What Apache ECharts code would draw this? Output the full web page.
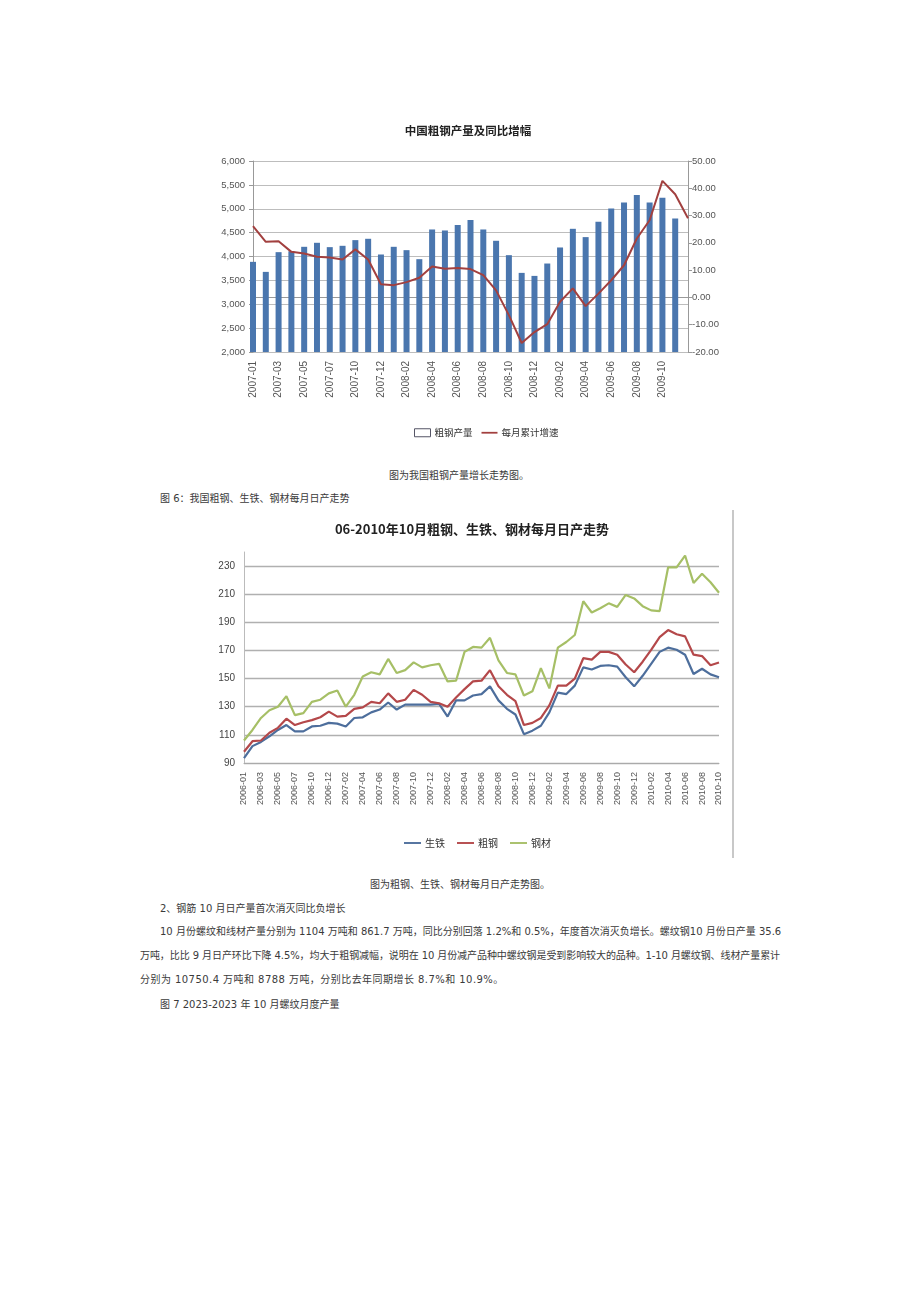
<!DOCTYPE html>
<html><head><meta charset="utf-8">
<script src="https://cdn.jsdelivr.net/npm/echarts@6/dist/echarts.min.js"></script>
<style>
html,body{margin:0;padding:0;background:#fff;width:920px;height:1302px;overflow:hidden;}
body{position:relative;font-family:"DejaVu Sans","Noto Sans CJK SC",sans-serif;color:#3a3a3a;}
.t{position:absolute;font-size:10px;line-height:14px;white-space:nowrap;}
.j{text-align:justify;text-align-last:justify;}
#c1{position:absolute;left:205px;top:100px;width:530px;height:350px;}
#c2{position:absolute;left:195px;top:505px;width:538px;height:355px;}
#bd{position:absolute;left:732px;top:510px;width:2px;height:348px;background:#c8c8c8;}
</style></head>
<body>
<div id="c1"></div>
<div class="t" style="left:0;width:918px;text-align:center;top:469px;">图为我国粗钢产量增长走势图。</div>
<div class="t" style="left:160px;top:492px;">图 6：我国粗钢、生铁、钢材每月日产走势</div>
<div id="c2"></div>
<div id="bd"></div>
<div class="t" style="left:0;width:920px;text-align:center;top:878px;">图为粗钢、生铁、钢材每月日产走势图。</div>
<div class="t" style="left:160px;top:902px;">2、钢筋 10 月日产量首次消灭同比负增长</div>
<div class="t j" style="left:160px;top:925px;width:620px;">10 月份螺纹和线材产量分别为 1104 万吨和 861.7 万吨，同比分别回落 1.2%和 0.5%，年度首次消灭负增长。螺纹钢10 月份日产量 35.6</div>
<div class="t j" style="left:140px;top:949px;width:640px;letter-spacing:-0.12px;">万吨，比比 9 月日产环比下降 4.5%，均大于粗钢减幅，说明在 10 月份减产品种中螺纹钢是受到影响较大的品种。1-10 月螺纹钢、线材产量累计</div>
<div class="t" style="left:140px;top:973px;letter-spacing:0.45px;">分别为 10750.4 万吨和 8788 万吨，分别比去年同期增长 8.7%和 10.9%。</div>
<div class="t" style="left:160px;top:998px;">图 7 2023-2023 年 10 月螺纹月度产量</div>
<script>
// ---------- Chart 1 data ----------
const c1Months = ['2007-01','2007-02','2007-03','2007-04','2007-05','2007-06','2007-07','2007-08','2007-10','2007-11','2007-12',
  '2008-01','2008-02','2008-03','2008-04','2008-05','2008-06','2008-07','2008-08','2008-09','2008-10','2008-11','2008-12',
  '2009-01','2009-02','2009-03','2009-04','2009-05','2009-06','2009-07','2009-08','2009-09','2009-10','2009-11','2009-12'];
const c1Output = [3888,3678,4091,4110,4203,4287,4196,4224,4343,4371,4042,
  4203,4133,3944,4566,4545,4660,4762,4566,4329,4028,3657,3594,
  3853,4189,4580,4406,4727,5007,5133,5287,5133,5231,4797,null];
const c1Growth = [26.1,20.4,20.6,16.7,16.1,14.9,14.6,13.9,17.6,13.9,4.8,
  4.5,5.6,7.2,11.3,10.5,10.8,10.4,8.2,2.6,-6.5,-16.7,-12.7,
  -9.8,-1.6,3.3,-3.2,1.4,6.3,11.8,21.6,28.3,42.7,37.8,29.0];
const c1LeftTicks = {min:2000,max:6000,step:500};
const c1RightTicks = {min:-20,max:50,step:10};

// ---------- Chart 2 data ----------
const c2Months = ['2006-01','2006-02','2006-03','2006-04','2006-05','2006-06','2006-07','2006-08','2006-10','2006-11','2006-12',
  '2007-01','2007-02','2007-03','2007-04','2007-05','2007-06','2007-07','2007-08','2007-09','2007-10','2007-11','2007-12',
  '2008-01','2008-02','2008-03','2008-04','2008-05','2008-06','2008-07','2008-08','2008-09','2008-10','2008-11','2008-12',
  '2009-01','2009-02','2009-03','2009-04','2009-05','2009-06','2009-07','2009-08','2009-09','2009-10','2009-11','2009-12',
  '2010-01','2010-02','2010-03','2010-04','2010-05','2010-06','2010-07','2010-08','2010-09','2010-10'];
const pigIron = [93.5,102,105,109,113.5,117,112.5,112.5,116,116.5,118.5,
  118,116,122,122.5,126,128,133,128,131.5,131.5,131.5,131.5,
  132,123,134.5,134.5,138,139,144.5,134.5,128.5,124.5,110.5,113,
  116.5,126,140,139,145,158,156.5,159,159.5,158.5,151,144.5,
  152,160.5,169,172,170.5,167,153.3,157,153,151];
const crudeSteel = [98,105.5,106,111.5,115,121.5,117,119,120.5,122.5,126.5,
  123,123.5,128.5,129.5,133.5,132.5,139.5,133.5,135,142,138.5,133.5,
  132.5,130,136.5,142.5,148,148.5,156,144.5,138.5,134,117,118.5,
  122,131,145,145,150,164.5,163.5,169,169,167,160,154.5,
  162,170.5,179.5,184.5,181.5,180,167,166,159.5,161.5];
const steelProducts = [106,113.5,122,127.5,130,137.5,124,125.5,133.5,135,139.5,
  141.5,130,138.5,151.5,154.5,153,164,154,156,161.5,158,159.5,
  160.5,148,148.5,169,172.5,172,179,163,154,153,138,141,
  157.5,143,172,176,181,205,197,200,203.5,201,209.5,207,
  201.5,198.5,198,229,229,237.5,218,224.5,218.5,211];
const c2Ticks = {min:90,max:240,step:20};

const FONT = '"Liberation Sans", Arial, "Noto Sans CJK SC", sans-serif';
const CJK = '"Noto Sans CJK SC", sans-serif';
const LINE_ICON = 'path://M0,0L18,0L18,2L0,2Z';

// ---------- Chart 1 ----------
const ch1 = echarts.init(document.getElementById('c1'), null, {renderer:'canvas'});
ch1.setOption({
  animation:false,
  textStyle:{fontFamily:FONT},
  title:{text:'中国粗钢产量及同比增幅',left:258,top:20,textAlign:'center',
    textStyle:{fontSize:11.5,fontWeight:'bold',color:'#222',fontFamily:CJK}},
  legend:{top:323,left:204,itemGap:9,itemWidth:16,itemHeight:8,
    textStyle:{fontSize:9.5,color:'#333',fontFamily:CJK,padding:[0,0,0,-1]},
    data:[{name:'粗钢产量',icon:'rect',itemStyle:{color:'#fff',borderColor:'#556',borderWidth:1}},
          {name:'每月累计增速',icon:LINE_ICON}]},
  grid:{left:48,right:47,top:61,bottom:98,containLabel:false},
  xAxis:{type:'category',data:c1Months,boundaryGap:false,
    axisLine:{lineStyle:{color:'#999'}},axisTick:{show:false},
    axisLabel:{interval:(i)=> i % 2 === 0 && i <= 32,rotate:90,fontSize:10,color:'#555',margin:9}},
  yAxis:[
    {type:'value',min:c1LeftTicks.min,max:c1LeftTicks.max,interval:c1LeftTicks.step,
      axisLine:{show:true,lineStyle:{color:'#999'}},axisTick:{show:true,length:4,lineStyle:{color:'#999'}},
      splitLine:{lineStyle:{color:'#bdbdbd',width:1}},
      axisLabel:{fontSize:9.5,color:'#555',margin:8,formatter:v=>v.toLocaleString('en-US')}},
    {type:'value',min:c1RightTicks.min,max:c1RightTicks.max,interval:c1RightTicks.step,position:'right',
      axisLine:{show:true,lineStyle:{color:'#999'}},axisTick:{show:true,length:4,lineStyle:{color:'#999'}},
      splitLine:{show:false},
      axisLabel:{fontSize:9.5,color:'#555',margin:4,formatter:v=>v.toFixed(2)}}
  ],
  series:[
    {name:'粗钢产量',type:'bar',data:c1Output,barWidth:6,itemStyle:{color:'#4a76ae'},yAxisIndex:0},
    {name:'每月累计增速',type:'line',data:c1Growth,yAxisIndex:1,symbol:'none',
      lineStyle:{color:'#a2403f',width:2},itemStyle:{color:'#a2403f'}}
  ]
});

// ---------- Chart 2 ----------
const ch2 = echarts.init(document.getElementById('c2'), null, {renderer:'canvas'});
ch2.setOption({
  animation:false,
  textStyle:{fontFamily:FONT},
  title:{text:'06-2010年10月粗钢、生铁、钢材每月日产走势',left:272,top:13,textAlign:'center',
    textStyle:{fontSize:13,fontWeight:'bold',color:'#222',fontFamily:CJK}},
  legend:{top:328,left:204,itemGap:12,itemWidth:17,itemHeight:8,
    textStyle:{fontSize:10,color:'#333',fontFamily:CJK,padding:[0,0,0,-1]},
    data:[{name:'生铁',icon:LINE_ICON},{name:'粗钢',icon:LINE_ICON},{name:'钢材',icon:LINE_ICON}]},
  grid:{left:49,right:14,top:47,bottom:97,containLabel:false},
  xAxis:{type:'category',data:c2Months,boundaryGap:false,
    axisLine:{lineStyle:{color:'#aaa'}},axisTick:{show:false},
    axisLabel:{interval:1,rotate:90,fontSize:9,color:'#555',margin:9}},
  yAxis:{type:'value',min:c2Ticks.min,max:c2Ticks.max,interval:c2Ticks.step,
    axisLine:{show:true,lineStyle:{color:'#bbb'}},axisTick:{show:false},
    splitLine:{showMaxLine:false,lineStyle:{color:'#b0b0b0',width:1.3}},
    axisLabel:{fontSize:10,color:'#444',margin:9,showMaxLabel:false}},
  series:[
    {name:'生铁',type:'line',data:pigIron,symbol:'none',lineStyle:{color:'#4d6e9c',width:2.2},itemStyle:{color:'#4d6e9c'}},
    {name:'粗钢',type:'line',data:crudeSteel,symbol:'none',lineStyle:{color:'#b4484a',width:2.2},itemStyle:{color:'#b4484a'}},
    {name:'钢材',type:'line',data:steelProducts,symbol:'none',lineStyle:{color:'#a6bf66',width:2.2},itemStyle:{color:'#a6bf66'}}
  ]
});
</script>
</body></html>
